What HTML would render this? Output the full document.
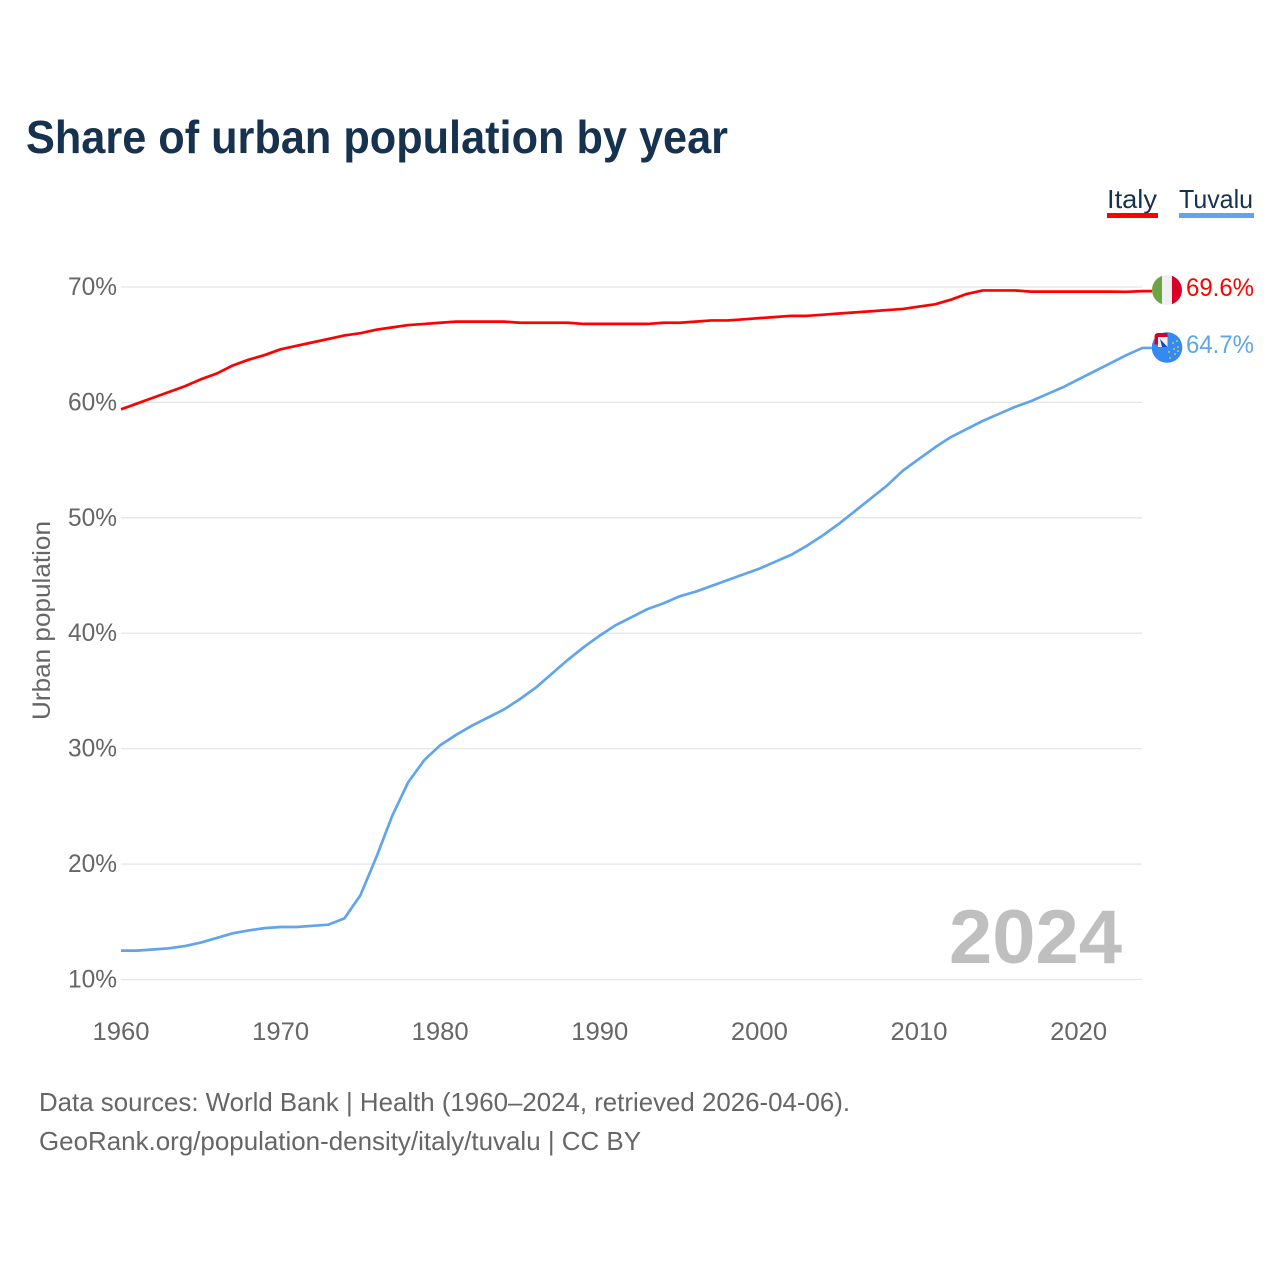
<!DOCTYPE html>
<html lang="en">
<head>
<meta charset="utf-8">
<title>Share of urban population by year</title>
<style>
html,body{margin:0;padding:0;background:#fff;width:1280px;height:1280px;overflow:hidden}
svg{display:block;font-family:"Liberation Sans",sans-serif}
</style>
</head>
<body>
<svg id="chart" width="1280" height="1280" viewBox="0 0 1280 1280" xmlns="http://www.w3.org/2000/svg">
  <defs>
    <clipPath id="clip-italy"><circle cx="1167" cy="290" r="15"></circle></clipPath>
    <clipPath id="clip-tuvalu"><circle cx="1167" cy="347.5" r="15.3"></circle></clipPath>
  </defs>
  <rect width="1280" height="1280" fill="#fff"></rect>
  <text x="26" y="153" font-size="46" font-weight="700" fill="#16324f" textLength="702" lengthAdjust="spacingAndGlyphs">Share of urban population by year</text>

  <g>
    <text x="1107" y="208" font-size="26" fill="#16324f" textLength="50" lengthAdjust="spacingAndGlyphs">Italy</text>
    <rect x="1107" y="213" width="51" height="5" fill="#ff0000"></rect>
  </g>
  <g>
    <text x="1179" y="208" font-size="26" fill="#16324f" textLength="74" lengthAdjust="spacingAndGlyphs">Tuvalu</text>
    <rect x="1179" y="213" width="75" height="5" fill="#60a5ec"></rect>
  </g>

  <g id="grid"></g>
  <g id="y-ticks"></g>
  <g id="x-ticks"></g>
  <text transform="translate(50,720) rotate(-90)" font-size="25" fill="#666" textLength="199" lengthAdjust="spacingAndGlyphs">Urban population</text>
  <text x="949" y="963" font-size="76" font-weight="700" fill="#bfbfbf" textLength="173" lengthAdjust="spacingAndGlyphs">2024</text>
  <g id="series"></g>

  <g clip-path="url(#clip-italy)">
    <rect x="1152" y="275" width="10" height="30" fill="#6da544"></rect>
    <rect x="1162" y="275" width="10" height="30" fill="#f0f0f0"></rect>
    <rect x="1172" y="275" width="10" height="30" fill="#d80027"></rect>
  </g>
  <g>
    <g clip-path="url(#clip-tuvalu)">
      <rect x="1152" y="332" width="31" height="31" fill="#338af3"></rect>
    </g>
    <path d="M1167.5 347 V333 H1158 Q1154.5 333 1154.5 337 V347 Z" fill="#d80027"></path>
    <rect x="1158" y="337" width="9.5" height="10" fill="#f0f0f0"></rect>
    <path d="M1160 339 L1167.5 347 H1162 Z" fill="#1a47b8"></path>
    <rect x="1154.5" y="344.5" width="3.5" height="3" fill="#338af3"></rect>
    <g fill="#d9c24a">
      <circle cx="1173" cy="343" r="1"></circle>
      <circle cx="1177" cy="341" r="1"></circle>
      <circle cx="1178" cy="347" r="1"></circle>
      <circle cx="1174" cy="349" r="1"></circle>
      <circle cx="1169" cy="352" r="1"></circle>
      <circle cx="1175" cy="354" r="1"></circle>
      <circle cx="1170" cy="358" r="1"></circle>
      <circle cx="1178" cy="351" r="1"></circle>
    </g>
  </g>
  <text id="label-italy" x="1186" y="296" font-size="25" fill="#ff0000" textLength="68" lengthAdjust="spacingAndGlyphs"></text>
  <text id="label-tuvalu" x="1186" y="353" font-size="25" fill="#60a5ec" textLength="68" lengthAdjust="spacingAndGlyphs"></text>

  <text x="39" y="1111" font-size="26" fill="#666" textLength="811" lengthAdjust="spacingAndGlyphs">Data sources: World Bank | Health (1960–2024, retrieved 2026-04-06).</text>
  <text x="39" y="1150" font-size="26" fill="#666" textLength="602" lengthAdjust="spacingAndGlyphs">GeoRank.org/population-density/italy/tuvalu | CC BY</text>
</svg>
<script>
var startYear = 1960;
var yTickValues = [10, 20, 30, 40, 50, 60, 70];
var xTickYears = [1960, 1970, 1980, 1990, 2000, 2010, 2020];
var italyValues = [59.4,59.9,60.4,60.9,61.4,62.0,62.5,63.2,63.7,64.1,64.6,64.9,65.2,65.5,65.8,66.0,66.3,66.5,66.7,66.8,66.9,67.0,67.0,67.0,67.0,66.9,66.9,66.9,66.9,66.8,66.8,66.8,66.8,66.8,66.9,66.9,67.0,67.1,67.1,67.2,67.3,67.4,67.5,67.5,67.6,67.7,67.8,67.9,68.0,68.1,68.3,68.5,68.9,69.4,69.7,69.7,69.7,69.6,69.6,69.6,69.6,69.6,69.6,69.58,69.64];
var tuvaluValues = [12.5,12.5,12.6,12.7,12.9,13.2,13.6,14.0,14.25,14.45,14.55,14.55,14.65,14.75,15.3,17.3,20.6,24.2,27.1,29.0,30.3,31.2,32.0,32.7,33.4,34.3,35.3,36.5,37.7,38.8,39.8,40.7,41.4,42.1,42.6,43.2,43.6,44.1,44.6,45.1,45.6,46.2,46.8,47.6,48.5,49.5,50.6,51.7,52.8,54.1,55.1,56.1,57.0,57.7,58.4,59.0,59.6,60.1,60.7,61.3,62.0,62.7,63.4,64.1,64.72];

var NS = 'http://www.w3.org/2000/svg';
function xScale(year) { return 121 + (year - 1960) * 15.96; }
function yScale(v) { return 979.5 - (v - 10) * 11.542; }
function make(tag, attrs, parent, text) {
  var el = document.createElementNS(NS, tag);
  for (var k in attrs) el.setAttribute(k, attrs[k]);
  if (text !== undefined) el.textContent = text;
  parent.appendChild(el);
  return el;
}
var grid = document.getElementById('grid');
var yTicks = document.getElementById('y-ticks');
var xTicks = document.getElementById('x-ticks');
var series = document.getElementById('series');

yTickValues.forEach(function (v) {
  var line = make('line', {x1: 121, x2: 1142, y1: yScale(v), y2: yScale(v), stroke: '#e6e6e6', 'stroke-width': 1.3}, grid);
  
  
  var t = make('text', {x: 117, y: yScale(v) + 8, 'font-size': 25, fill: '#666', 'text-anchor': 'end', textLength: 49, lengthAdjust: 'spacingAndGlyphs'}, yTicks, v + '%');
  
  
});
xTickYears.forEach(function (year) {
  var t = make('text', {x: xScale(year), y: 1040, 'font-size': 25, fill: '#666', 'text-anchor': 'middle', textLength: 57, lengthAdjust: 'spacingAndGlyphs'}, xTicks, String(year));
  
  
});
function drawLine(values, color) {
  var pts = values.map(function (v, i) { return xScale(startYear + i).toFixed(2) + ',' + yScale(v).toFixed(2); });
  var last = yScale(values[values.length - 1]).toFixed(2);
  pts.push('1152,' + last);
  return make('polyline', {points: pts.join(' '), fill: 'none', stroke: color, 'stroke-width': 2.7, 'stroke-linejoin': 'round'}, series);
}
var italyLine = drawLine(italyValues, '#ff0000');


var tuvaluLine = drawLine(tuvaluValues, '#60a5ec');


document.getElementById('label-italy').textContent = italyValues[italyValues.length - 1].toFixed(1) + '%';
document.getElementById('label-tuvalu').textContent = tuvaluValues[tuvaluValues.length - 1].toFixed(1) + '%';
</script>
</body>
</html>
